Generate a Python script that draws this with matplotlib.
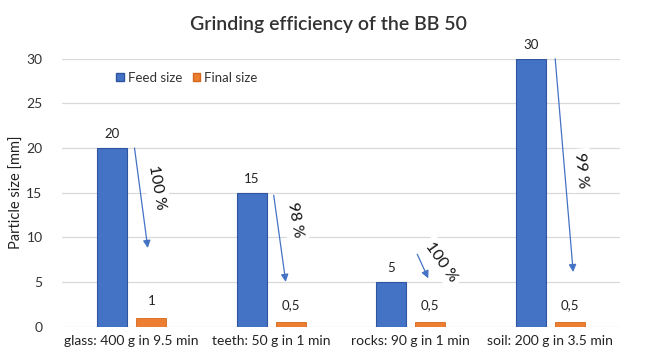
import matplotlib
matplotlib.use("Agg")
import matplotlib.pyplot as plt
import numpy as np
from matplotlib.patches import Patch

categories = ["glass: 400 g in 9.5 min", "teeth: 50 g in 1 min",
              "rocks: 90 g in 1 min", "soil: 200 g in 3.5 min"]
feed_size = [20, 15, 5, 30]
final_size = [1, 0.5, 0.5, 0.5]
feed_labels = ["20", "15", "5", "30"]
final_labels = ["1", "0,5", "0,5", "0,5"]
efficiency_labels = ["100 %", "98 %", "100 %", "99 %"]
y_ticks = [0, 5, 10, 15, 20, 25, 30]

# annotation geometry (relative to category centre, in data units)
arrow_start_dx = [0.02, 0.018, 0.047, 0.036]
arrow_start_y = [20, 14.7, 8.1, 30]
arrow_end_dx = [0.115, 0.104, 0.126, 0.165]
arrow_end_y = [8.8, 5.0, 5.4, 6.1]
text_dx = [0.18, 0.17, 0.22, 0.22]
text_y = [15.6, 11.9, 7.2, 17.5]
text_rot = [-80, -80, -55, -84]

plt.rcParams['font.family'] = ['Lato', 'DejaVu Sans']
BLUE = "#4472C4"
ORANGE = "#ED7D31"

fig = plt.figure(figsize=(6.56, 3.52), dpi=100)
ax = fig.add_axes([0.0945, 0.0724, 0.8505, 0.7606])

x = np.arange(len(categories))
w = 0.215
off = 0.14
ax.bar(x - off, feed_size, w, color=BLUE, edgecolor="#2F55A0", linewidth=0.8, zorder=3)
ax.bar(x + off, final_size, w, color=ORANGE, edgecolor="#D2691E", linewidth=0.6, zorder=3)

for i in range(len(categories)):
    ax.text(x[i] - off, feed_size[i] + 0.9, feed_labels[i], ha="center", va="bottom",
            fontsize=9.5, color="#222222", clip_on=False)
    ax.text(x[i] + off, final_size[i] + 1.2, final_labels[i], ha="center", va="bottom",
            fontsize=9.5, color="#222222")
    ax.annotate("", xy=(x[i] + arrow_end_dx[i], arrow_end_y[i]),
                xytext=(x[i] + arrow_start_dx[i], arrow_start_y[i]),
                arrowprops=dict(arrowstyle="-|>", color=BLUE, lw=0.9,
                                mutation_scale=11, shrinkA=0, shrinkB=0),
                zorder=5, annotation_clip=False)
    ax.text(x[i] + text_dx[i], text_y[i], efficiency_labels[i], rotation=text_rot[i],
            rotation_mode="anchor", ha="center", va="center", fontsize=11.5, color="#111111",
            bbox=dict(boxstyle="square,pad=0.25", fc="white", ec="none"), zorder=4)

ax.set_xlim(-0.5, len(categories) - 0.5)
ax.set_ylim(0, 30)
ax.set_yticks(y_ticks)
ax.set_xticks(x)
ax.set_xticklabels(categories, fontsize=10, color="#222222")
ax.tick_params(axis="y", labelsize=10, colors="#333333", length=0, pad=14)
ax.tick_params(axis="x", length=0, pad=6)
ax.grid(axis="y", color="#D9D9D9", linewidth=0.9, zorder=0)
ax.set_axisbelow(True)
for s in ax.spines.values():
    s.set_visible(False)
ax.set_ylabel("Particle size [mm]", fontsize=10.5, color="#222222", labelpad=2)

handles = [Patch(facecolor=BLUE, edgecolor="#2F55A0", label="Feed size"),
           Patch(facecolor=ORANGE, edgecolor="#D2691E", label="Final size")]
ax.legend(handles=handles, ncol=2, frameon=False, fontsize=9.5, loc="center left",
          bbox_to_anchor=(0.075, 0.93), handlelength=0.6, handleheight=0.6,
          handletextpad=0.3, columnspacing=0.8, labelcolor="#333333")

fig.text(0.5, 0.93, "Grinding efficiency of the BB 50", ha="center", va="center",
         fontsize=14, fontweight="semibold", color="#333333")

fig.savefig("out.png", dpi=100, facecolor="white")
